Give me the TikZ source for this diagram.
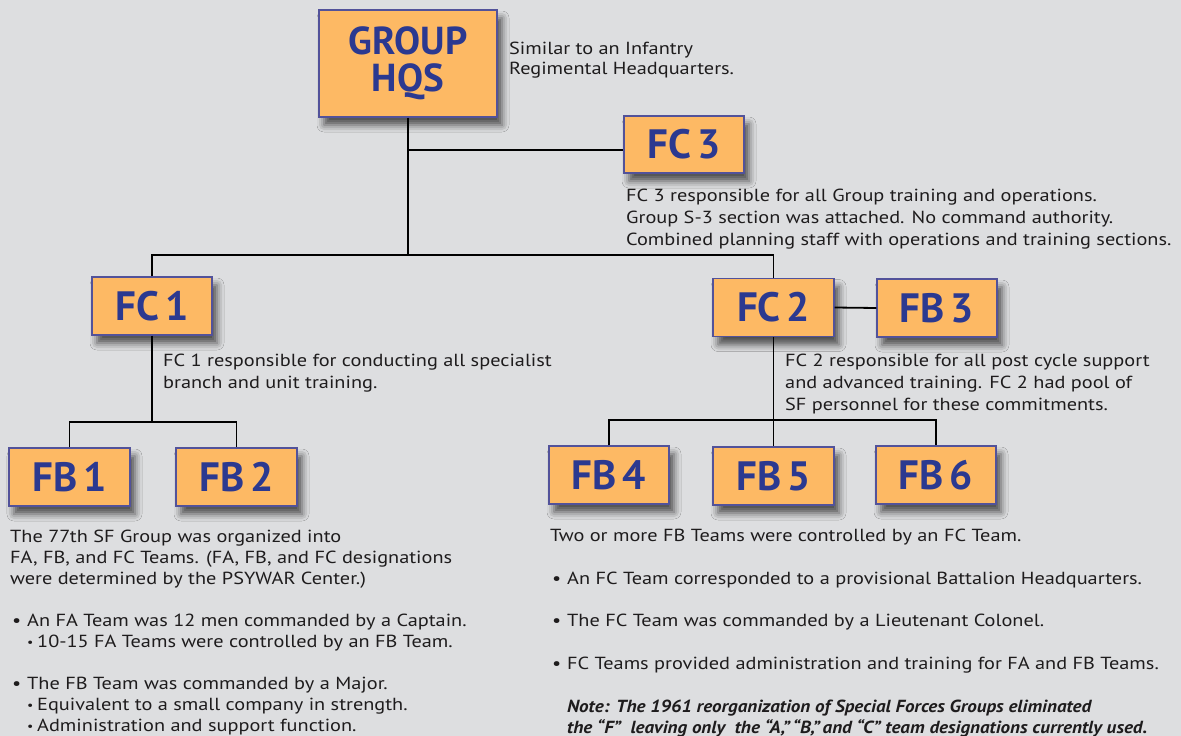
\documentclass[tikz,border=0pt]{standalone}
\usepackage{fontspec}
\setmainfont{PT Sans}[FakeStretch=1.16]
\newfontfamily\labelfont{PT Sans}
\newfontfamily\notefont{PT Sans}[FakeStretch=1.09]
\usetikzlibrary{calc}
\usetikzlibrary{shadows.blur}

\definecolor{bggray}{HTML}{DDDEE0}
\definecolor{boxorange}{HTML}{FDB964}
\definecolor{boxedge}{HTML}{52529A}
\definecolor{labelblue}{HTML}{2B3990}
\definecolor{notetext}{HTML}{1E1C1D}

\newcommand{\mainbul}{\makebox[17pt][l]{\hspace{2pt}•}}
\newcommand{\subbul}{\hspace*{17pt}\makebox[10pt][l]{\raisebox{1pt}{\fontsize{12}{12}\selectfont •}}}
\newcommand{\boxlabelfont}{\labelfont\bfseries\fontsize{41}{36}\selectfont\spaceskip=6pt\relax}

\tikzset{
  unitbox/.style={draw=boxedge, line width=1.2, fill=boxorange, minimum width=120, minimum height=58,
    inner sep=0, text=labelblue, font=\boxlabelfont,
    blur shadow={shadow xshift=5pt, shadow yshift=-8pt, shadow blur radius=7pt, shadow opacity=65}},
  link/.style={line width=1.8, black},
  note/.style={anchor=north west, inner sep=0, align=left, text=notetext, font=\fontsize{17.5}{21.7}\selectfont},
}

\begin{document}
\begin{tikzpicture}[x=1pt,y=-1pt]
	\fill[bggray] (0,0) rectangle (1181,736);
	\useasboundingbox (0,0) rectangle (1181,736);
	
	% unit boxes
	\node[unitbox, minimum width=178, minimum height=107, align=center, font=\labelfont\bfseries\fontsize{39}{37}\selectfont] (hqs) at (408,63.5) {GROUP\\HQS};
	\node[unitbox, minimum height=57] (fc3) at (684,144.5) {FC 3};
	\node[unitbox] (fc1) at (152,306) {FC 1};
	\node[unitbox, minimum width=121] (fc2) at (773.5,307.5) {FC 2};
	\node[unitbox] (fb3) at (937,308) {FB 3};
	\node[unitbox, minimum width=121] (fb1) at (69.5,477) {FB 1};
	\node[unitbox, minimum width=121] (fb2) at (236.5,477) {FB 2};
	\node[unitbox] (fb4) at (609,475) {FB 4};
	\node[unitbox, minimum width=121] (fb5) at (773.5,476) {FB 5};
	\node[unitbox] (fb6) at (936,475) {FB 6};
	
	% levels of the horizontal bars
	\coordinate (fc3lvl) at (0,150);
	\coordinate (fclvl) at (0,255);
	\coordinate (fblvlL) at (0,422);
	\coordinate (fblvlR) at (0,420);
	
	\draw[link] (hqs.south) -- (hqs.south |- fclvl);
	\draw[link] (hqs.south |- fc3lvl) -- (fc3.west |- fc3lvl);
	\draw[link] (fc1.north) -- (fc1.north |- fclvl) -- (fc2.north |- fclvl) -- (fc2.north);
	\draw[link] (fc2.east) -- (fb3.west);
	\draw[link] (fc1.south) -- (fc1.south |- fblvlL);
	\draw[link] (fb1.north) -- (fb1.north |- fblvlL) -- (fb2.north |- fblvlL) -- (fb2.north);
	\draw[link] (fc2.south) -- (fb5.north);
	\draw[link] (fb4.north) -- (fb4.north |- fblvlR) -- (fb6.north |- fblvlR) -- (fb6.north);
	
	% notes
	\node[note, font=\fontsize{17.5}{19.3}\selectfont] (hqsnote) at (509,42.3) {Similar to an Infantry\\Regimental Headquarters.};
	\node[note, font=\fontsize{17.5}{22}\selectfont] (fc3note) at (626,189.3) {FC 3 responsible for all Group training and operations.\\Group S-3 section was attached. No command authority.\\Combined planning staff with operations and training sections.};
	\node[note] (fc1note) at (163,354.3) {FC 1 responsible for conducting all specialist\\branch and unit training.};
	\node[note] (fc2note) at (785,354.3) {FC 2 responsible for all post cycle support\\and advanced training. FC 2 had pool of\\SF personnel for these commitments.};
	
	\node[note, font=\fontsize{17.5}{21}\selectfont] (leftnote) at (10,530.3) {The 77th SF Group was organized into\\FA, FB, and FC Teams. (FA, FB, and FC designations\\were determined by the PSYWAR Center.)\\[21pt]
		\mainbul An FA Team was 12 men commanded by a Captain.\\
		\subbul 10-15 FA Teams were controlled by an FB Team.\\[21pt]
		\mainbul The FB Team was commanded by a Major.\\
		\subbul Equivalent to a small company in strength.\\
		\subbul Administration and support function.};
	
	\node[note, font=\fontsize{17.5}{21.3}\selectfont] (rightnote) at (550,529) {Two or more FB Teams were controlled by an FC Team.\\[21.3pt]
		\mainbul An FC Team corresponded to a provisional Battalion Headquarters.\\[21.3pt]
		\mainbul The FC Team was commanded by a Lieutenant Colonel.\\[21.3pt]
		\mainbul FC Teams provided administration and training for FA and FB Teams.\\[21.3pt]
		\hspace*{17pt}{\notefont\bfseries\itshape Note: The 1961 reorganization of Special Forces Groups eliminated}\\
		\hspace*{17pt}{\notefont\bfseries\itshape the “F”\ \ leaving only\ \ the “A,”\,“B,”\,and “C” team designations currently used.}};
\end{tikzpicture}
\end{document}
